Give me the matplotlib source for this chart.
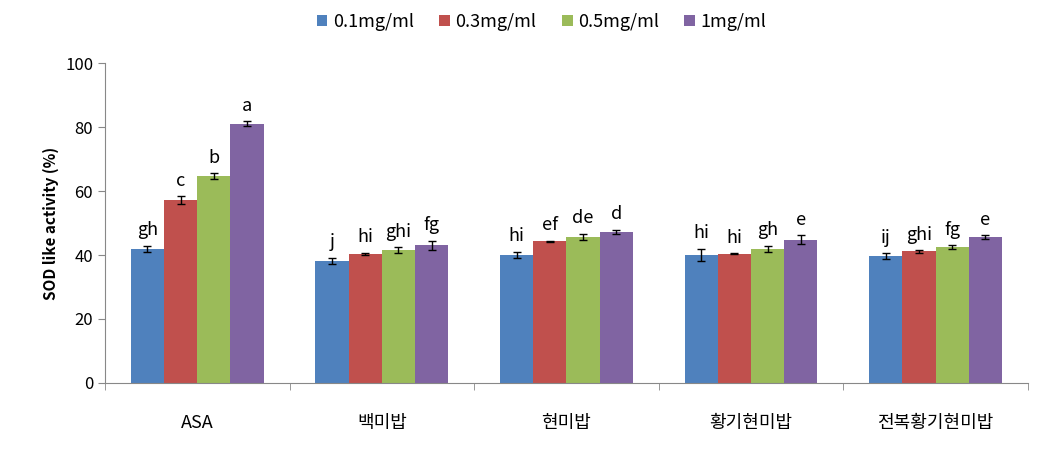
import numpy as np
import matplotlib
matplotlib.use("Agg")
import matplotlib.pyplot as plt
import matplotlib.ticker as ticker

plt.rcParams['font.family'] = ['Noto Sans CJK KR', 'DejaVu Sans']

categories = ['ASA', '백미밥', '현미밥', '황기현미밥', '전복황기현미밥']
series = ['0.1mg/ml', '0.3mg/ml', '0.5mg/ml', '1mg/ml']
values = [
    [41.9, 38.2, 40.0, 40.0, 39.7],
    [57.2, 40.4, 44.3, 40.4, 41.1],
    [64.7, 41.5, 45.7, 41.9, 42.5],
    [81.1, 43.0, 47.2, 44.7, 45.5],
]
errors = [
    [1.0, 1.0, 1.0, 2.0, 0.8],
    [1.2, 0.3, 0.2, 0.2, 0.4],
    [0.8, 1.0, 1.0, 1.0, 0.5],
    [0.7, 1.5, 0.7, 1.4, 0.6],
]
letters = [
    ['gh', 'j', 'hi', 'hi', 'ij'],
    ['c', 'hi', 'ef', 'hi', 'ghi'],
    ['b', 'ghi', 'de', 'gh', 'fg'],
    ['a', 'fg', 'd', 'e', 'e'],
]
colors = ['#4F81BD', '#C0504D', '#9BBB59', '#8064A2']

fig = plt.figure(figsize=(10.56, 4.57), dpi=100)
ax = fig.add_axes([0.0994, 0.162, 0.874, 0.700])

x = np.arange(len(categories))
w = 0.18
for i in range(4):
    xi = x + (i - 1.5) * w
    ax.bar(xi, values[i], w, color=colors[i], label=series[i], zorder=2)
    ax.errorbar(xi, values[i], yerr=errors[i], fmt='none', ecolor='black',
                elinewidth=1, capsize=3, capthick=1, zorder=3)
    for xx, v, e, t in zip(xi, values[i], errors[i], letters[i]):
        ax.text(xx, v + e + 2.0, t, ha='center', va='bottom', fontsize=13)

ax.set_xlim(-0.5, len(categories) - 0.5)
ax.set_ylim(0, 100)
ax.yaxis.set_major_locator(ticker.MultipleLocator(20))
ax.set_xticks(x)
ax.set_xticklabels(categories, fontsize=13)
ax.set_xticks(np.arange(-0.5, len(categories)), minor=True)
ax.tick_params(axis='x', which='major', length=0, pad=22)
ax.tick_params(axis='x', which='minor', length=5, color='#888888')
ax.tick_params(axis='y', labelsize=12, length=5, color='#888888')
ax.set_ylabel('SOD like activity (%)', fontsize=11, fontweight='bold')

for s in ['top', 'right']:
    ax.spines[s].set_visible(False)
for s in ['left', 'bottom']:
    ax.spines[s].set_color('#888888')

ax.legend(loc='center', bbox_to_anchor=(0.473, 1.128), ncol=4, frameon=False,
          fontsize=13, handlelength=0.6, handleheight=0.6, handletextpad=0.3,
          columnspacing=1.4)

fig.savefig('out.png', dpi=100)
